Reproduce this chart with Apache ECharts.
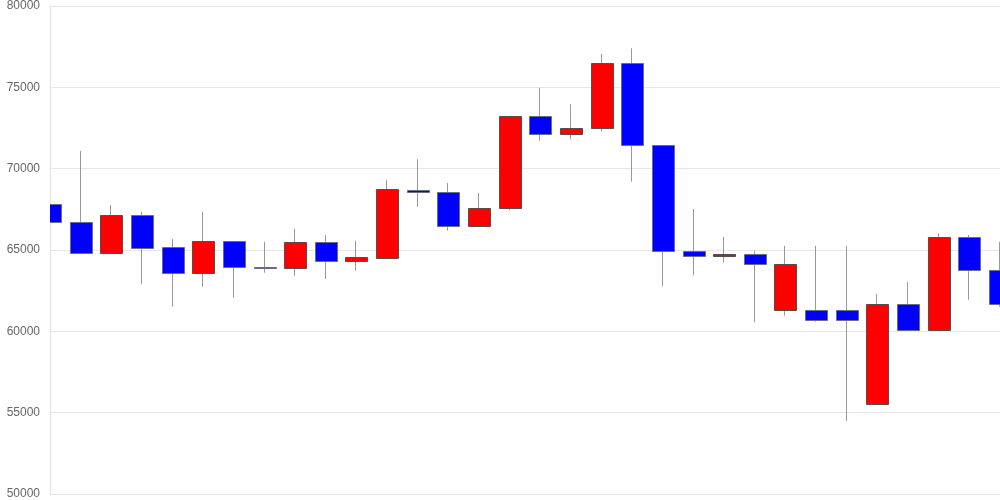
<!DOCTYPE html>
<html>
<head>
<meta charset="utf-8">
<script src="https://cdn.jsdelivr.net/npm/echarts@6/dist/echarts.min.js"></script>
<style>html,body{margin:0;padding:0;background:#fff;}#c{width:1000px;height:500px;}</style>
</head>
<body>
<div id="c"></div>
<script>
// Candle order: index 0..31
const categories = ['1','2','3','4','5','6','7','8','9','10','11','12','13','14','15','16','17','18','19','20','21','22','23','24','25','26','27','28','29','30','31','32'];
const openValues  = [67830,66720,64800,67130,65170,63570,65530,63980,63910,65470,64300,64530,68710,68550,66460,67560,73220,72150,72480,76510,71450,64940,64650,64770,61290,61290,61290,55510,61660,60100,65780,63750];
const closeValues = [66720,64800,67130,65140,63570,65530,63940,63930,65470,64300,64550,68730,68560,66460,67560,73220,72150,72480,76510,71450,64920,64650,64770,64120,64120,60680,60680,61660,60100,65780,63750,61660];
const lowValues   = [63970,64800,64800,62910,61510,62740,62070,63600,63420,63220,63730,64530,67660,66190,66400,67450,71720,71800,72300,69200,62770,63440,64240,60550,60960,60590,54500,55510,60100,60100,61940,61510];
const highValues  = [68930,71090,67770,67350,65680,67350,65530,65510,66310,65920,65570,69280,70580,69120,68500,73220,74960,73960,77050,77400,71450,67520,65800,64960,65250,65250,65250,62290,63030,66030,65920,65490];
const yTicks = {min: 50000, max: 80000, interval: 5000};

const candleData = categories.map((c, i) => [i, openValues[i], closeValues[i], lowValues[i], highValues[i]]);

const BODY_W = 22;
function renderCandle(params, api) {
  const idx = api.value(0);
  const o = api.value(1), c = api.value(2), l = api.value(3), h = api.value(4);
  const pO = api.coord([idx, o]);
  const pC = api.coord([idx, c]);
  const pL = api.coord([idx, l]);
  const pH = api.coord([idx, h]);
  const cx = Math.round(pO[0]) - 0.5;
  const up = c > o;
  const top = Math.round(Math.min(pO[1], pC[1])) + 0.5;
  const bot = Math.round(Math.max(pO[1], pC[1])) + 0.5;
  const left = Math.round(pO[0] - BODY_W / 2) + 0.5;
  return {
    type: 'group',
    children: [
      {
        type: 'line',
        shape: {x1: cx, y1: pH[1], x2: cx, y2: pL[1]},
        style: {stroke: '#999', lineWidth: 1}
      },
      {
        type: 'rect',
        shape: {x: left, y: top, width: BODY_W, height: Math.max(bot - top, 1)},
        style: {fill: up ? '#ff0000' : '#0000ff', stroke: up ? '#5e4a4a' : '#6a6a8a', lineWidth: 1}
      }
    ]
  };
}

const chart = echarts.init(document.getElementById('c'), null, {renderer: 'canvas'});
chart.setOption({
  animation: false,
  grid: {left: 50, right: 0, top: 6, bottom: 6, containLabel: false},
  xAxis: {
    type: 'category',
    data: categories,
    boundaryGap: false,
    axisLine: {show: false},
    axisTick: {show: false},
    axisLabel: {show: false},
    splitLine: {show: false}
  },
  yAxis: {
    type: 'value',
    min: yTicks.min,
    max: yTicks.max,
    interval: yTicks.interval,
    axisLine: {show: true, lineStyle: {color: '#e3e3e3'}},
    axisTick: {show: false},
    axisLabel: {color: '#666', fontSize: 12, fontFamily: 'Liberation Sans, Arial, sans-serif', margin: 10, formatter: v => String(v)},
    splitLine: {show: true, lineStyle: {color: '#e6e6e6'}}
  },
  series: [{
    type: 'custom',
    data: candleData,
    encode: {x: 0, y: [1, 2, 3, 4]},
    clip: true,
    renderItem: renderCandle
  }]
});
</script>
</body>
</html>
